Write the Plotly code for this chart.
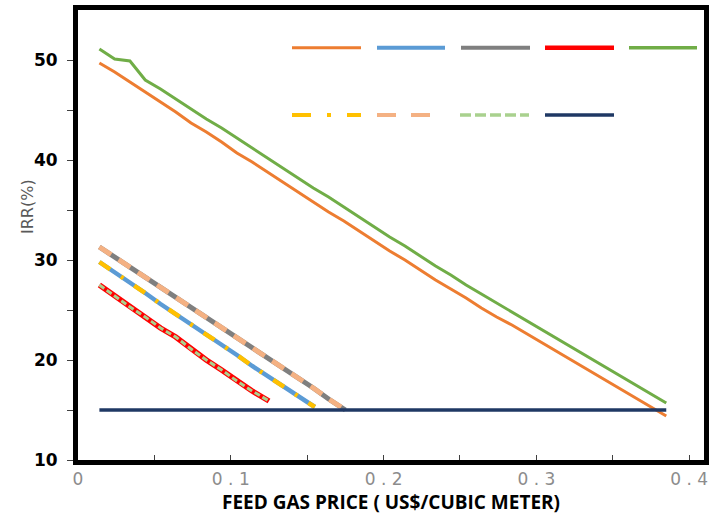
import plotly.graph_objects as go

# ---------------- data ----------------
x_long = [0.014, 0.024, 0.034, 0.044, 0.054, 0.064, 0.074, 0.084, 0.094, 0.104,
          0.114, 0.124, 0.134, 0.144, 0.154, 0.164, 0.174, 0.184, 0.194, 0.204,
          0.214, 0.224, 0.234, 0.244, 0.254, 0.264, 0.274, 0.284, 0.294, 0.304,
          0.314, 0.324, 0.334, 0.344, 0.354, 0.364, 0.374, 0.385]

orange = [49.7, 48.8, 47.8, 46.8, 45.8, 44.8, 43.7, 42.8, 41.8, 40.7,
          39.8, 38.8, 37.8, 36.8, 35.8, 34.8, 33.9, 32.9, 31.9, 30.9,
          30.0, 29.0, 28.0, 27.1, 26.2, 25.2, 24.3, 23.5, 22.6, 21.7,
          20.8, 19.9, 19.0, 18.1, 17.2, 16.3, 15.4, 14.4]

green = [51.1, 50.1, 49.9, 48.0, 47.1, 46.1, 45.1, 44.1, 43.2, 42.2,
         41.2, 40.2, 39.2, 38.2, 37.2, 36.3, 35.3, 34.3, 33.3, 32.3,
         31.4, 30.4, 29.4, 28.5, 27.5, 26.6, 25.7, 24.8, 23.9, 23.0,
         22.1, 21.2, 20.3, 19.4, 18.5, 17.6, 16.7, 15.7]

navy = [15.0] * len(x_long)

x_gray = [0.014, 0.024, 0.034, 0.044, 0.054, 0.064, 0.074, 0.084, 0.094,
          0.104, 0.114, 0.124, 0.134, 0.144, 0.154, 0.164, 0.175]
gray = [31.3, 30.3, 29.3, 28.3, 27.3, 26.3, 25.3, 24.3, 23.3,
        22.3, 21.3, 20.3, 19.3, 18.3, 17.2, 16.1, 15.0]

x_blue = [0.014, 0.024, 0.034, 0.044, 0.054, 0.064, 0.074, 0.084,
          0.094, 0.104, 0.114, 0.124, 0.134, 0.144, 0.155]
blue = [29.8, 28.8, 27.7, 26.7, 25.6, 24.6, 23.6, 22.6,
        21.5, 20.5, 19.4, 18.4, 17.4, 16.3, 15.3]

x_red = [0.014, 0.024, 0.034, 0.044, 0.054, 0.064, 0.074, 0.084,
         0.094, 0.104, 0.114, 0.125]
red = [27.5, 26.4, 25.3, 24.3, 23.2, 22.3, 21.1, 20.0,
       19.0, 17.9, 16.9, 15.9]

x_tickvals = [0, 0.05, 0.1, 0.15, 0.2, 0.25, 0.3, 0.35, 0.4]
x_ticktext = ["0", "", "0 . 1", "", "0 . 2", "", "0 . 3", "", "0 . 4"]
y_tickvals = [10, 15, 20, 25, 30, 35, 40, 45, 50]
y_ticktext = ["10", "", "20", "", "30", "", "40", "", "50"]

C_ORANGE = "#ED7D31"
C_BLUE = "#5B9BD5"
C_GRAY = "#7F7F7F"
C_RED = "#FF0000"
C_GREEN = "#70AD47"
C_YELLOW = "#FFC000"
C_SALMON = "#F4B183"
C_LGREEN = "#A9D18E"
C_NAVY = "#1F3864"

fig = go.Figure()

def add(x, y, color, width, dash="solid"):
    fig.add_trace(go.Scatter(x=x, y=y, mode="lines",
                             line=dict(color=color, width=width, dash=dash),
                             showlegend=False, hoverinfo="skip"))

add(x_long, orange, C_ORANGE, 3)
add(x_blue, blue, C_BLUE, 4.5)
add(x_gray, gray, C_GRAY, 5)
add(x_red, red, C_RED, 5.5)
add(x_long, green, C_GREEN, 3)
add(x_blue, blue, C_YELLOW, 4.5, "13px,13px,3px,13px")
add(x_gray, gray, C_SALMON, 5, "14px,9px")
add(x_red, red, C_LGREEN, 3, "6px,3px")
add(x_long, navy, C_NAVY, 3.5)

# ---------------- legend samples (no text) ----------------
L, R, T, B = 78, 704, 10, 460
def px(xp):
    return (xp - L) / (R - L)
def py(yp):
    return 1 - (yp - T) / (B - T)

legend_items = [
    (292, 361, 47.7, C_ORANGE, 3, "solid"),
    (377, 445, 47.7, C_BLUE, 4, "solid"),
    (461, 530, 47.7, C_GRAY, 4, "solid"),
    (545, 614, 47.7, C_RED, 4.5, "solid"),
    (629, 697, 47.7, C_GREEN, 3.5, "solid"),
    (292, 361, 115, C_YELLOW, 4, "19px,16px,4px,16px"),
    (377, 431, 115, C_SALMON, 4, "19px,15px"),
    (460, 529, 115, C_LGREEN, 3.5, "11px,4px"),
    (545, 614, 115, C_NAVY, 3.5, "solid"),
]
shapes = []
for x0, x1, yy, col, w, d in legend_items:
    shapes.append(dict(type="line", xref="paper", yref="paper",
                       x0=px(x0), x1=px(x1), y0=py(yy), y1=py(yy),
                       line=dict(color=col, width=w, dash=d)))

fig.update_layout(
    width=716, height=518,
    margin=dict(l=L, r=716 - R, t=T, b=518 - B, autoexpand=False),
    paper_bgcolor="white", plot_bgcolor="white",
    showlegend=False,
    shapes=shapes,
    xaxis=dict(range=[0, 0.4097], tickmode="array", tickvals=x_tickvals,
               ticktext=x_ticktext, ticks="inside", ticklen=5, tickwidth=1,
               tickcolor="#404040", showgrid=False, zeroline=False,
               automargin=False,
               showline=True, linecolor="black", linewidth=5, mirror=True,
               tickfont=dict(family="DejaVu Sans", size=17, color="#8C8C8C"),
               title=dict(text="FEED GAS PRICE ( US$/CUBIC METER)",
                          font=dict(family="Open Sans", size=19, color="black",
                                    weight="bold"),
                          standoff=6)),
    yaxis=dict(range=[10, 55], tickmode="array", tickvals=y_tickvals,
               ticktext=y_ticktext, ticks="outside", ticklen=6, tickwidth=1,
               tickcolor="#404040", showgrid=False, zeroline=False,
               automargin=False, ticklabelstandoff=6,
               showline=True, linecolor="black", linewidth=5, mirror=True,
               tickfont=dict(family="DejaVu Sans", size=17, color="black",
                             weight="bold")),
    annotations=[dict(text="IRR(%)", xref="paper", yref="paper",
                      x=px(27), y=py(207), showarrow=False, textangle=-90,
                      xanchor="center", yanchor="middle",
                      font=dict(family="DejaVu Sans", size=16, color="#595959"))],
)

fig.write_html("out.html")
